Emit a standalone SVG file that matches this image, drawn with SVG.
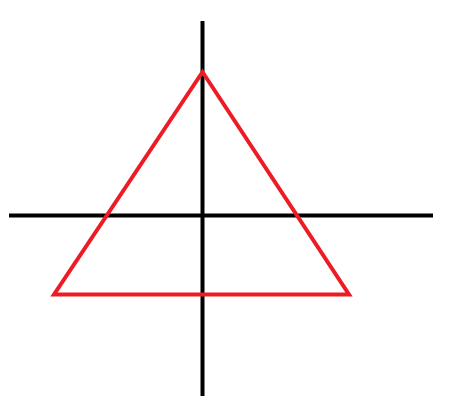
<svg xmlns="http://www.w3.org/2000/svg" width="456" height="416" viewBox="0 0 456 416">
<style>
.axis{stroke:#000;stroke-width:4;fill:none}
.tri{stroke:#ED1C24;stroke-width:4;fill:none;stroke-linejoin:miter}
</style>
<rect width="456" height="416" fill="#fff"/>
<g id="axes">
<line class="axis" x1="202.5" y1="21" x2="202.5" y2="396"/>
<line class="axis" x1="9" y1="215.5" x2="433" y2="215.5"/>
</g>
<g id="triangle">
<polygon class="tri" points="202.5,72 54,294.5 349,294.5"/>
</g>
</svg>
